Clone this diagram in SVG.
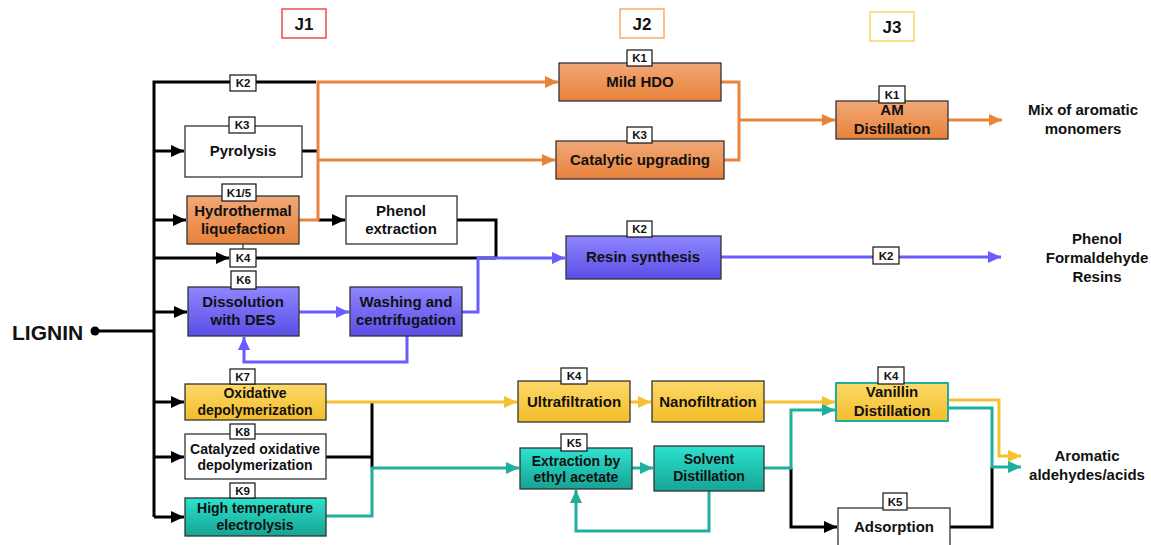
<svg xmlns="http://www.w3.org/2000/svg" width="1151" height="545" viewBox="0 0 1151 545">
<defs>
<linearGradient id="gO" x1="0" y1="0" x2="0" y2="1"><stop offset="0" stop-color="#F1A877"/><stop offset="1" stop-color="#E8823A"/></linearGradient>
<linearGradient id="gB" x1="0" y1="0" x2="0" y2="1"><stop offset="0" stop-color="#8E86FF"/><stop offset="1" stop-color="#5A4EE6"/></linearGradient>
<linearGradient id="gY" x1="0" y1="0" x2="0" y2="1"><stop offset="0" stop-color="#FCD96A"/><stop offset="1" stop-color="#F4BD28"/></linearGradient>
<linearGradient id="gT" x1="0" y1="0" x2="0" y2="1"><stop offset="0" stop-color="#2DE2CE"/><stop offset="1" stop-color="#16A394"/></linearGradient>
<marker id="aK" markerUnits="userSpaceOnUse" markerWidth="14" markerHeight="12" refX="13" refY="6" orient="auto"><path d="M0,0 L13,6 L0,12 z" fill="#000"/></marker>
<marker id="aO" markerUnits="userSpaceOnUse" markerWidth="14" markerHeight="12" refX="13" refY="6" orient="auto"><path d="M0,0 L13,6 L0,12 z" fill="#E8843C"/></marker>
<marker id="aB" markerUnits="userSpaceOnUse" markerWidth="14" markerHeight="12" refX="13" refY="6" orient="auto"><path d="M0,0 L13,6 L0,12 z" fill="#6A5CFF"/></marker>
<marker id="aY" markerUnits="userSpaceOnUse" markerWidth="14" markerHeight="12" refX="13" refY="6" orient="auto"><path d="M0,0 L13,6 L0,12 z" fill="#F6C030"/></marker>
<marker id="aT" markerUnits="userSpaceOnUse" markerWidth="14" markerHeight="12" refX="13" refY="6" orient="auto"><path d="M0,0 L13,6 L0,12 z" fill="#20AE9E"/></marker>
</defs>
<style>
text{font-family:"Liberation Sans",Arial,sans-serif;font-weight:bold;fill:#111;text-anchor:middle}
.n{stroke:#333;stroke-width:1.3}
.w{fill:#fff}
.o{fill:url(#gO)}
.b{fill:url(#gB)}
.y{fill:url(#gY)}
.t{fill:url(#gT)}
.t15{font-size:15px}
.t14{font-size:14px}
.lab rect{fill:#fff;stroke:#111;stroke-width:1.2}
.lab text{font-size:11.5px}
.c{fill:none;stroke-width:3;stroke-linejoin:miter}
.k{stroke:#000}
.co{stroke:#E8843C}
.cb{stroke:#6A5CFF}
.cy{stroke:#F6C030}
.ct{stroke:#20AE9E}
.j{fill:#fff;stroke-width:1.3}
</style>

<g id="headers">
<rect class="j" x="282" y="9" width="44" height="29" stroke="#F03030"/><text x="304" y="30" style="font-size:17px">J1</text>
<rect class="j" x="620" y="9" width="44" height="29" stroke="#F4A050"/><text x="642" y="30" style="font-size:17px">J2</text>
<rect class="j" x="870" y="12" width="44" height="29" stroke="#F8D050"/><text x="892" y="33" style="font-size:17px">J3</text>
</g>

<g id="connectors">
<!-- black -->
<path class="c k" d="M316 82 H154 V517"/>
<path class="c k" d="M95 331 H154"/>
<path class="c k" d="M154 151 H184" marker-end="url(#aK)"/>
<path class="c k" d="M154 220 H186" marker-end="url(#aK)"/>
<path class="c k" d="M154 258 H229" marker-end="url(#aK)"/>
<path class="c k" d="M154 312 H187" marker-end="url(#aK)"/>
<path class="c k" d="M154 402 H184" marker-end="url(#aK)"/>
<path class="c k" d="M154 457 H184" marker-end="url(#aK)"/>
<path class="c k" d="M154 517 H184" marker-end="url(#aK)"/>
<path class="c k" d="M256 258 H496"/>
<path class="c k" d="M457 220 H496 V258"/>
<path class="c k" d="M302 151 H318"/>
<path class="c k" d="M318 220 H345" marker-end="url(#aK)"/>
<path fill="none" stroke="#000" stroke-width="1" d="M243 244 V249"/>
<path class="c k" d="M326 457 H372"/>
<path class="c k" d="M372 402 V468"/>
<path class="c k" d="M791 468 V527 H837" marker-end="url(#aK)"/>
<path class="c k" d="M950 527 H992 V467"/>
<!-- orange -->
<path class="c co" d="M299 220 H318 V82 H558" marker-end="url(#aO)"/>
<path class="c co" d="M318 160 H555" marker-end="url(#aO)"/>
<path class="c co" d="M721 82 H739 V160 H724"/>
<path class="c co" d="M739 120 H835" marker-end="url(#aO)"/>
<path class="c co" d="M948 120 H1002" marker-end="url(#aO)"/>
<!-- blue -->
<path class="c cb" d="M299 312 H349" marker-end="url(#aB)"/>
<path class="c cb" d="M462 312 H478 V258 H565" marker-end="url(#aB)"/>
<path class="c cb" d="M407 336 V362 H244 V337" marker-end="url(#aB)"/>
<path class="c cb" d="M721 257 H1001" marker-end="url(#aB)"/>
<!-- yellow -->
<path class="c cy" d="M326 402 H517" marker-end="url(#aY)"/>
<path class="c cy" d="M630 402 H651" marker-end="url(#aY)"/>
<path class="c cy" d="M764 402 H835" marker-end="url(#aY)"/>
<path class="c cy" d="M948 400 H999 V456 H1021" marker-end="url(#aY)"/>
<!-- teal -->
<path class="c ct" d="M326 516 H372 V468 H519" marker-end="url(#aT)"/>
<path class="c ct" d="M632 468 H653" marker-end="url(#aT)"/>
<path class="c ct" d="M709 491 V531 H576 V490" marker-end="url(#aT)"/>
<path class="c ct" d="M764 468 H791 V410 H835" marker-end="url(#aT)"/>
<path class="c ct" d="M948 408 H992 V467 H1021" marker-end="url(#aT)"/>
<g class="lab"><rect x="873" y="247" width="26" height="17"/><text x="886" y="260">K2</text></g>
<g class="lab"><rect x="230" y="75" width="26" height="16"/><text x="243" y="87">K2</text></g>
<g class="lab"><rect x="230" y="249" width="26" height="18"/><text x="243" y="262">K4</text></g>
</g>

<g id="lignin">
<circle cx="95" cy="331" r="4.5" fill="#000"/>
<text x="12" y="340" style="font-size:21px;text-anchor:start">LIGNIN</text>
</g>

<g id="pyrolysis"><rect class="n w" x="185" y="126" width="117" height="51"/><text class="t15" x="243" y="156">Pyrolysis</text>
<g class="lab"><rect x="229" y="117" width="26" height="16"/><text x="242" y="129">K3</text></g></g>

<g id="hydrothermal"><rect class="n o" x="187" y="196" width="112" height="48"/><text class="t15" x="243" y="216">Hydrothermal</text><text class="t15" x="243" y="234">liquefaction</text>
<g class="lab"><rect x="222" y="184" width="34" height="17"/><text x="239" y="197">K1/5</text></g></g>

<g id="phenol-extraction"><rect class="n w" x="346" y="196" width="111" height="48"/><text class="t15" x="401" y="216">Phenol</text><text class="t15" x="401" y="234">extraction</text></g>

<g id="mild-hdo"><rect class="n o" x="559" y="63" width="162" height="38"/><text class="t15" x="640" y="87">Mild HDO</text>
<g class="lab"><rect x="627" y="50" width="25" height="16"/><text x="639.5" y="62">K1</text></g></g>

<g id="catalytic-upgrading"><rect class="n o" x="556" y="141" width="168" height="38"/><text class="t15" x="640" y="165">Catalytic upgrading</text>
<g class="lab"><rect x="627" y="127" width="25" height="16"/><text x="639.5" y="139">K3</text></g></g>

<g id="am-distillation"><rect class="n o" x="836" y="101" width="112" height="38"/><text class="t15" x="892" y="115">AM</text><text class="t15" x="892" y="134">Distillation</text>
<g class="lab"><rect x="879" y="86" width="26" height="17"/><text x="892" y="99">K1</text></g></g>

<g id="mix-aromatic"><text class="t15" x="1083" y="115">Mix of aromatic</text><text class="t15" x="1083" y="134">monomers</text></g>

<g id="resin-synthesis"><rect class="n b" x="566" y="236" width="155" height="43"/><text class="t15" x="643" y="262">Resin synthesis</text>
<g class="lab"><rect x="627" y="221" width="25" height="16"/><text x="639.5" y="233">K2</text></g></g>

<g id="pf-resins"><text class="t15" x="1097" y="244">Phenol</text><text class="t15" x="1097" y="263">Formaldehyde</text><text class="t15" x="1097" y="282">Resins</text></g>

<g id="dissolution"><rect class="n b" x="188" y="287" width="111" height="49"/><text class="t15" x="243" y="307">Dissolution</text><text class="t15" x="243" y="325">with DES</text>
<g class="lab"><rect x="231" y="271" width="25" height="18"/><text x="243.5" y="284">K6</text></g></g>

<g id="washing"><rect class="n b" x="350" y="287" width="112" height="49"/><text class="t15" x="406" y="307">Washing and</text><text class="t15" x="406" y="325">centrifugation</text></g>

<g id="oxidative"><rect class="n y" x="185" y="384" width="141" height="36"/><text class="t14" x="255" y="398">Oxidative</text><text class="t14" x="255" y="415">depolymerization</text>
<g class="lab"><rect x="230" y="369" width="25" height="15"/><text x="242.5" y="381">K7</text></g></g>

<g id="catalyzed-oxidative"><rect class="n w" x="185" y="434" width="141" height="45"/><text class="t14" x="255" y="454">Catalyzed oxidative</text><text class="t14" x="255" y="470">depolymerization</text>
<g class="lab"><rect x="230" y="424" width="25" height="15"/><text x="242.5" y="436">K8</text></g></g>

<g id="electrolysis"><rect class="n t" x="185" y="498" width="141" height="38"/><text class="t14" x="255" y="513">High temperature</text><text class="t14" x="255" y="530">electrolysis</text>
<g class="lab"><rect x="230" y="483" width="25" height="15"/><text x="242.5" y="495">K9</text></g></g>

<g id="ultrafiltration"><rect class="n y" x="518" y="381" width="112" height="41"/><text class="t15" x="574" y="407">Ultrafiltration</text>
<g class="lab"><rect x="561" y="368" width="26" height="16"/><text x="574" y="380">K4</text></g></g>

<g id="nanofiltration"><rect class="n y" x="652" y="381" width="112" height="41"/><text class="t15" x="708" y="407">Nanofiltration</text></g>

<g id="extraction"><rect class="n t" x="520" y="448" width="112" height="41"/><text class="t14" x="576" y="466">Extraction by</text><text class="t14" x="576" y="482">ethyl acetate</text>
<g class="lab"><rect x="561" y="434" width="26" height="17"/><text x="574" y="447">K5</text></g></g>

<g id="solvent-distillation"><rect class="n t" x="654" y="446" width="110" height="45"/><text class="t14" x="709" y="464">Solvent</text><text class="t14" x="709" y="481">Distillation</text></g>

<g id="vanillin-distillation"><rect x="836" y="383" width="112" height="38" fill="url(#gY)" stroke="#20AE9E" stroke-width="2"/><text class="t15" x="892" y="397">Vanillin</text><text class="t15" x="892" y="416">Distillation</text>
<g class="lab"><rect x="878" y="367" width="26" height="17"/><text x="891" y="380">K4</text></g></g>

<g id="adsorption"><rect class="n w" x="838" y="508" width="112" height="45"/><text class="t15" x="894" y="532">Adsorption</text>
<g class="lab"><rect x="883" y="493" width="24" height="17"/><text x="895" y="506">K5</text></g></g>

<g id="aromatic-aldehydes"><text class="t15" x="1087" y="461">Aromatic</text><text class="t15" x="1087" y="480">aldehydes/acids</text></g>
</svg>
